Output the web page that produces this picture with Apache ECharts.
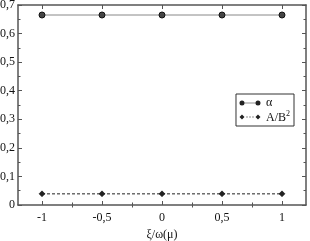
<!DOCTYPE html>
<html><head><meta charset="utf-8">
<script src="https://cdn.jsdelivr.net/npm/echarts@6/dist/echarts.min.js"></script>
<style>html,body{margin:0;padding:0;background:#fff}#c{width:310px;height:241px}</style>
</head><body><div id="c"></div>
<script>
const xValues = [-1, -0.5, 0, 0.5, 1];
const xMinorTicks = [-1.25, -0.75, -0.25, 0.25, 0.75, 1.25];
const alphaValues = [0.665, 0.665, 0.665, 0.665, 0.665];
const abValues = [0.039, 0.039, 0.039, 0.039, 0.039];
const seriesNames = ['α', 'A/B²'];
const FONT = 'Liberation Serif';
const fmt = v => String(v).replace('.', ',');
const chart = echarts.init(document.getElementById('c'));
const line = {show: true, onZero: false, lineStyle: {color: '#555', width: 1.5}};
const tick = (len, vals) => ({show: true, inside: true, length: len, lineStyle: {color: '#555'}, ...(vals ? {customValues: vals} : {})});
const xBase = {type: 'value', min: -1.2, max: 1.2, splitLine: {show: false}, minorTick: {show: false}};
const circ = cx => `M${cx-5},7 A5,5 0 1,0 ${cx+5},7 A5,5 0 1,0 ${cx-5},7 Z `;
const dia = cx => `M${cx-5},7 L${cx},2 L${cx+5},7 L${cx},12 Z `;
const iconAlpha = 'path://M0,0 L0,0.01 Z ' + circ(6) + 'M11,6.3 L33,6.3 L33,7.7 L11,7.7 Z ' + circ(38) + 'M44,14 L44,13.99 Z';
const iconAB = 'path://M0,0 L0,0.01 Z ' + dia(6) + 'M14,6.4 L18,6.4 L18,7.6 L14,7.6 Z M20,6.4 L24,6.4 L24,7.6 L20,7.6 Z M26,6.4 L30,6.4 L30,7.6 L26,7.6 Z ' + dia(38) + 'M44,14 L44,13.99 Z';
chart.setOption({
  animation: false,
  grid: {left: 18, right: 4, top: 5, bottom: 36, containLabel: false, outerBoundsMode: 'none'},
  legend: {
    orient: 'vertical', right: 16, top: 94,
    borderColor: '#333', borderWidth: 1, padding: [3, 4, 2, 3],
    itemWidth: 22, itemHeight: 7, itemGap: 1,
    itemStyle: {borderWidth: 0, color: '#222'},
    textStyle: {fontFamily: FONT, fontSize: 12, color: '#111', lineHeight: 12,
      rich: {
        b: {fontFamily: FONT, fontSize: 12, lineHeight: 14, verticalAlign: 'bottom', color: '#111'},
        sup: {fontFamily: FONT, fontSize: 8, lineHeight: 8, verticalAlign: 'top', color: '#111'}
      }},
    formatter: n => n === 'A/B²' ? '{b|A/B}{sup|2}' : n,
    data: [{name: seriesNames[0], icon: iconAlpha}, {name: seriesNames[1], icon: iconAB}]
  },
  xAxis: [{
    ...xBase, position: 'bottom',
    axisLine: line, axisTick: tick(4, xValues),
    axisLabel: {fontFamily: FONT, fontSize: 12, color: '#111', margin: 7,
      formatter: v => fmt(v), customValues: xValues},
    name: 'ξ/ω(μ)', nameLocation: 'middle', nameGap: 23,
    nameTextStyle: {fontFamily: FONT, fontSize: 12, color: '#111'}
  }, {
    ...xBase, position: 'top',
    axisLine: line, axisTick: tick(4, xValues), axisLabel: {show: false}
  }, {
    ...xBase, position: 'bottom',
    axisLine: {show: false}, axisTick: tick(2.5, xMinorTicks), axisLabel: {show: false}
  }, {
    ...xBase, position: 'top',
    axisLine: {show: false}, axisTick: tick(2.5, xMinorTicks), axisLabel: {show: false}
  }],
  yAxis: [{
    type: 'value', min: 0, max: 0.7, interval: 0.1, position: 'left',
    axisLine: line, axisTick: tick(4), splitLine: {show: false},
    minorTick: {show: true, splitNumber: 2, length: 2.5, lineStyle: {color: '#555'}},
    axisLabel: {fontFamily: FONT, fontSize: 12, color: '#111', margin: 3,
      formatter: v => fmt(Math.round(v*10)/10)}
  }, {
    type: 'value', min: 0, max: 0.7, interval: 0.1, position: 'right',
    axisLine: line, axisTick: tick(4), splitLine: {show: false},
    minorTick: {show: true, splitNumber: 2, length: 2.5, lineStyle: {color: '#555'}},
    axisLabel: {show: false}
  }],
  series: [{
    name: seriesNames[0], type: 'line',
    data: xValues.map((x, i) => [x, alphaValues[i]]),
    symbol: 'circle', symbolSize: 6,
    lineStyle: {color: '#888', width: 1},
    itemStyle: {color: '#444', borderColor: '#111', borderWidth: 1}
  }, {
    name: seriesNames[1], type: 'line',
    data: xValues.map((x, i) => [x, abValues[i]]),
    symbol: 'diamond', symbolSize: 6,
    lineStyle: {color: '#222', width: 1, type: [3, 2]},
    itemStyle: {color: '#222', borderColor: '#111', borderWidth: 0.5}
  }]
});
</script></body></html>
